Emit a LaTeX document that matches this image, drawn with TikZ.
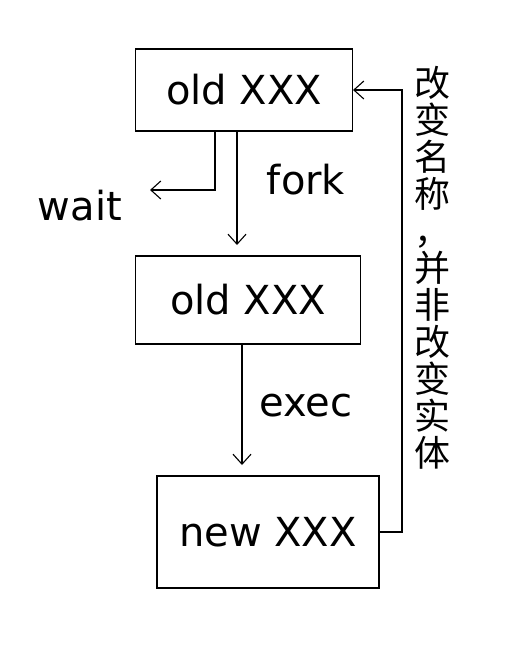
\documentclass[tikz,border=0pt]{standalone}
\usepackage{fontspec}
\setmainfont{DejaVu Sans}
\newfontfamily\cjk{Noto Sans CJK SC}
\usetikzlibrary{arrows.meta}
\begin{document}
\begin{tikzpicture}[x=1pt,y=-1pt,
  line width=1.1pt,
  procbox/.style={draw,minimum width=#1,inner sep=0pt,font=\fontsize{40}{42}\selectfont},
  lbl/.style={font=\fontsize{40}{42}\selectfont},
  arr/.style={-{Straight Barb[length=10pt,width=18pt]}}]
\useasboundingbox (0,0) rectangle (531,647);
\node[procbox=217pt,minimum height=82pt] (box1) at (244,90) {old XXX};
\node[procbox=225pt,minimum height=88pt] (box2) at (248,300) {old XXX};
\node[procbox=222pt,minimum height=112pt] (box3) at (268,532) {new XXX};
\node[lbl] (fork) at (306,180) {fork};
\node[lbl] (exec) at (306,406) {exec};
\node[lbl] (wait) at (80,206) {wait};
\coordinate (waittip) at (150,190);
\coordinate (waitdown) at (215,190);
\coordinate (forkx) at (237,245);
\coordinate (execx) at (242,465);
\coordinate (cr) at (402,300);
\node[font=\cjk\fontsize{36}{37}\selectfont,align=center,anchor=north] (note) at (432,62)
  {改\\变\\名\\称\\，\\并\\非\\改\\变\\实\\体};
\draw[arr] (box1.south -| forkx) -- (forkx);
\draw[arr] (box2.south -| execx) -- (execx);
\draw[arr] (box1.south -| waitdown) -- (waitdown) -- (waittip);
\draw[arr] (box3.east) -| (cr) |- (box1.east);
\end{tikzpicture}
\end{document}
